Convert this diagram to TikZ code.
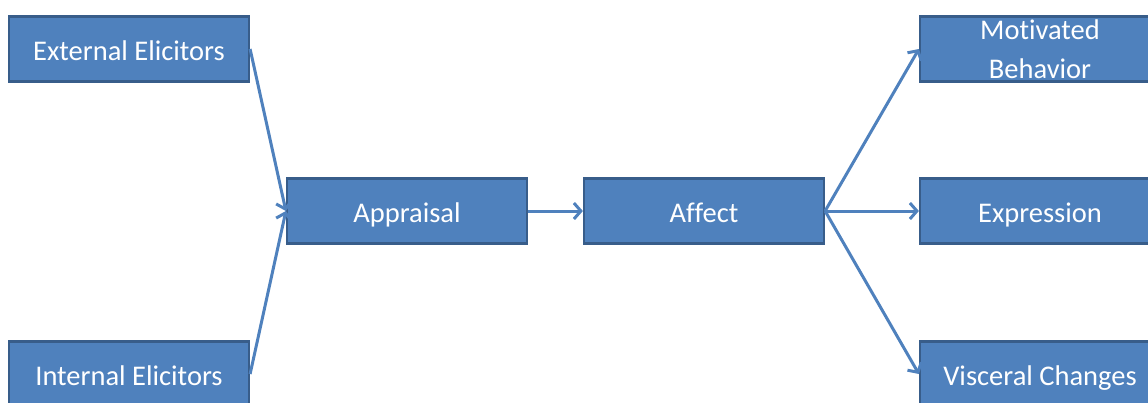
\documentclass[tikz,border=0pt]{standalone}
\usepackage{fontspec}
\setmainfont{Carlito}[Ligatures=NoCommon]
\usetikzlibrary{arrows.meta}
\definecolor{boxfill}{HTML}{4F81BD}
\definecolor{boxedge}{HTML}{385D8A}
\begin{document}
\begin{tikzpicture}[x=1pt,y=-1pt,
  blk/.style={draw=boxedge,line width=2.2pt,fill=boxfill,minimum width=240pt,minimum height=65pt,
    inner sep=0pt,text=white,font=\fontsize{28.5}{39}\selectfont,align=center},
  one/.style={text height=23pt,text depth=0pt},
  conn/.style={draw=boxfill,line width=3pt,-{Straight Barb[length=7pt,width=16pt,line width=3pt]}}]
\useasboundingbox (0,0) rectangle (1148,402);
\begin{scope}
\clip (0,0) rectangle (1148,402);
\node[blk,one] (ext) at (129,49) {External Elicitors};
\node[blk,one] (int) at (129,374) {Internal Elicitors};
\node[blk,one] (app) at (407,211) {Appraisal};
\node[blk,one] (aff) at (704,211) {Affect};
\node[blk] (mot) at (1040,49) {Motivated\\Behavior};
\node[blk,one] (exp) at (1040,211) {Expression};
\node[blk,one] (vis) at (1040,374) {Visceral Changes};
\draw[conn] (ext.east) -- (app.west);
\draw[conn] (int.east) -- (app.west);
\draw[conn] (app.east) -- (aff.west);
\draw[conn] (aff.east) -- (mot.west);
\draw[conn] (aff.east) -- (exp.west);
\draw[conn] (aff.east) -- (vis.west);
\end{scope}
\end{tikzpicture}
\end{document}
